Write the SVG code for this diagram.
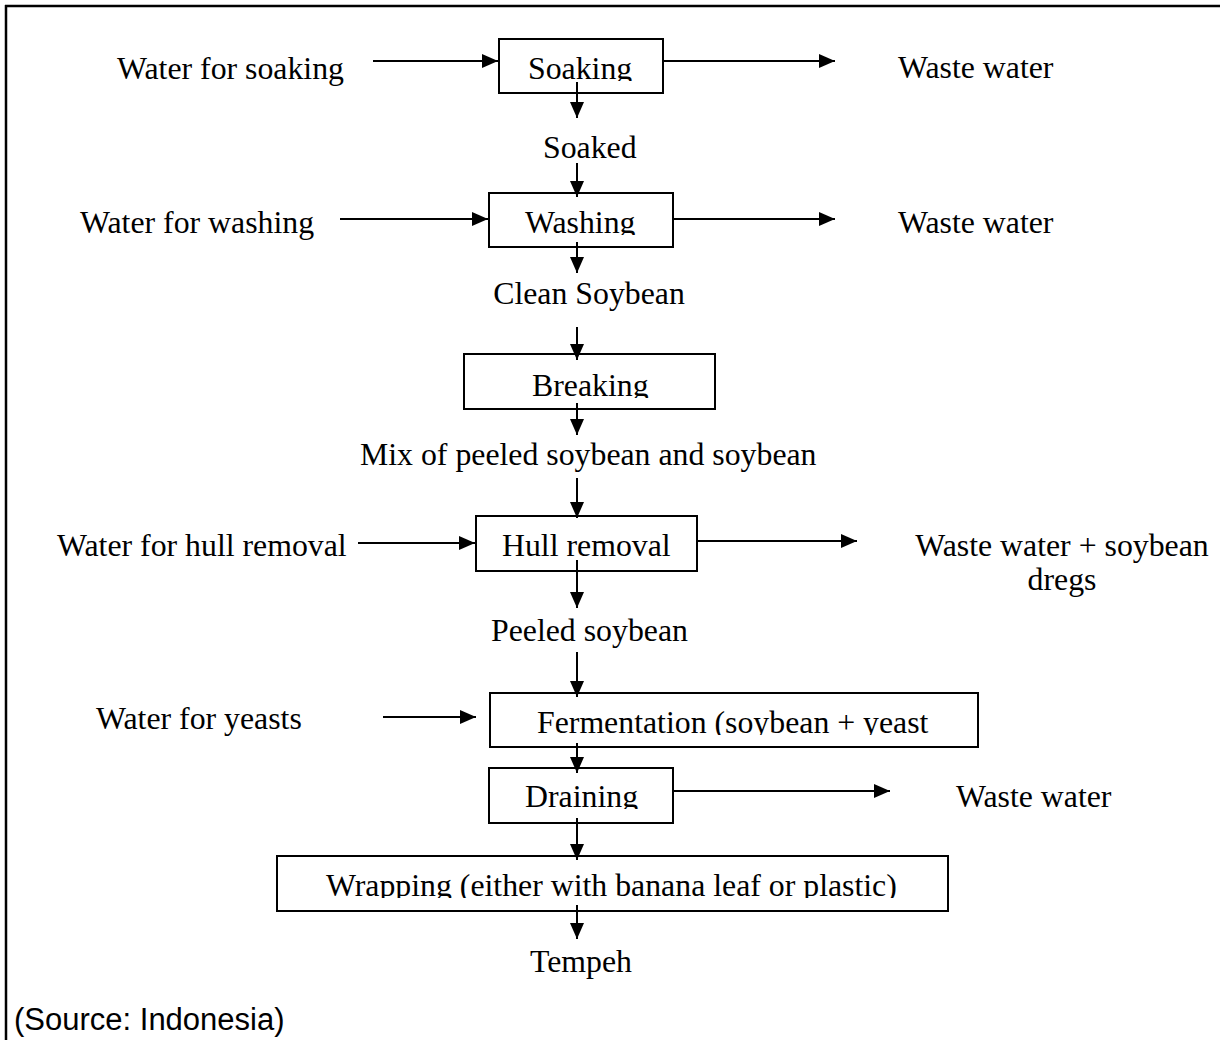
<svg xmlns="http://www.w3.org/2000/svg" width="1220" height="1040" viewBox="0 0 1220 1040">
<style>
  text { font-family: "Liberation Serif", "Times New Roman", serif; font-size: 31.8px; fill: #000; }
  .src { font-family: "Liberation Sans", Arial, sans-serif; font-size: 31px; }
  .box { fill: #fff; stroke: #000; stroke-width: 2; }
  .conn line { stroke: #000; stroke-width: 2; marker-end: url(#ah); }
  .frame { stroke: #000; stroke-width: 2.5; }
</style>
<defs>
  <marker id="ah" viewBox="0 0 16 14" refX="16" refY="7" markerWidth="16" markerHeight="14" markerUnits="userSpaceOnUse" orient="auto">
    <path d="M0,0 L16,7 L0,14 z" fill="#000"/>
  </marker>
  <clipPath id="c-soak" clipPathUnits="userSpaceOnUse"><rect x="499" y="39" width="164" height="42"/></clipPath>
  <clipPath id="c-wash" clipPathUnits="userSpaceOnUse"><rect x="489" y="193" width="184" height="42"/></clipPath>
  <clipPath id="c-break" clipPathUnits="userSpaceOnUse"><rect x="464" y="354" width="251" height="44"/></clipPath>
  <clipPath id="c-hull" clipPathUnits="userSpaceOnUse"><rect x="476" y="516" width="221" height="42"/></clipPath>
  <clipPath id="c-ferm" clipPathUnits="userSpaceOnUse"><rect x="490" y="693" width="488" height="42"/></clipPath>
  <clipPath id="c-drain" clipPathUnits="userSpaceOnUse"><rect x="489" y="768" width="184" height="41"/></clipPath>
  <clipPath id="c-wrap" clipPathUnits="userSpaceOnUse"><rect x="277" y="856" width="671" height="42"/></clipPath>
</defs>
<rect x="0" y="0" width="1220" height="1040" fill="#fff"/>
<line class="frame" x1="5" y1="6" x2="1220" y2="6"/>
<line class="frame" x1="6" y1="5" x2="6" y2="1040"/>

<g id="n-soaking">
  <rect class="box" x="499" y="39" width="164" height="54"/>
  <text x="528" y="79" clip-path="url(#c-soak)">Soaking</text>
</g>
<g id="n-washing">
  <rect class="box" x="489" y="193" width="184" height="54"/>
  <text x="525" y="233" clip-path="url(#c-wash)">Washing</text>
</g>
<g id="n-breaking">
  <rect class="box" x="464" y="354" width="251" height="55"/>
  <text x="532" y="396" clip-path="url(#c-break)">Breaking</text>
</g>
<g id="n-hull">
  <rect class="box" x="476" y="516" width="221" height="55"/>
  <text x="502" y="556" clip-path="url(#c-hull)">Hull removal</text>
</g>
<g id="n-ferm">
  <rect class="box" x="490" y="693" width="488" height="54"/>
  <text x="537" y="733" clip-path="url(#c-ferm)">Fermentation (soybean + yeast</text>
</g>
<g id="n-drain">
  <rect class="box" x="489" y="768" width="184" height="55"/>
  <text x="525" y="807" clip-path="url(#c-drain)">Draining</text>
</g>
<g id="n-wrap">
  <rect class="box" x="277" y="856" width="671" height="55"/>
  <text x="326" y="896" clip-path="url(#c-wrap)">Wrapping (either with banana leaf or plastic)</text>
</g>

<g id="labels">
  <g id="l-water-soak"><text x="117" y="79">Water for soaking</text></g>
  <g id="l-waste1"><text x="898" y="78">Waste water</text></g>
  <g id="l-soaked"><text x="543" y="158">Soaked</text></g>
  <g id="l-water-wash"><text x="80" y="233">Water for washing</text></g>
  <g id="l-waste2"><text x="898" y="233">Waste water</text></g>
  <g id="l-clean"><text x="589" y="304" text-anchor="middle">Clean Soybean</text></g>
  <g id="l-mix"><text x="360" y="465">Mix of peeled soybean and soybean</text></g>
  <g id="l-water-hull"><text x="57" y="556">Water for hull removal</text></g>
  <g id="l-waste3"><text x="1062" y="556" text-anchor="middle">Waste water + soybean</text><text x="1062" y="590" text-anchor="middle">dregs</text></g>
  <g id="l-peeled"><text x="491" y="641">Peeled soybean</text></g>
  <g id="l-water-yeast"><text x="96" y="729">Water for yeasts</text></g>
  <g id="l-waste4"><text x="956" y="807">Waste water</text></g>
  <g id="l-tempeh"><text x="530" y="972">Tempeh</text></g>
  <g id="l-source"><text class="src" x="14" y="1030">(Source: Indonesia)</text></g>
</g>

<g id="connectors" class="conn">
  <line x1="373" y1="61" x2="498" y2="61"/>
  <line x1="663" y1="61" x2="835" y2="61"/>
  <line x1="340" y1="219" x2="488" y2="219"/>
  <line x1="673" y1="219" x2="835" y2="219"/>
  <line x1="358" y1="543" x2="475" y2="543"/>
  <line x1="697" y1="541" x2="857" y2="541"/>
  <line x1="383" y1="717" x2="476" y2="717"/>
  <line x1="673" y1="791" x2="890" y2="791"/>

  <line x1="577" y1="82" x2="577" y2="118"/>
  <line x1="577" y1="163" x2="577" y2="197"/>
  <line x1="577" y1="242" x2="577" y2="273"/>
  <line x1="577" y1="327" x2="577" y2="360"/>
  <line x1="577" y1="403" x2="577" y2="435"/>
  <line x1="577" y1="478" x2="577" y2="518"/>
  <line x1="577" y1="560" x2="577" y2="608"/>
  <line x1="577" y1="652" x2="577" y2="697"/>
  <line x1="577" y1="743" x2="577" y2="773"/>
  <line x1="577" y1="818" x2="577" y2="860"/>
  <line x1="577" y1="905" x2="577" y2="939"/>
</g>
</svg>
